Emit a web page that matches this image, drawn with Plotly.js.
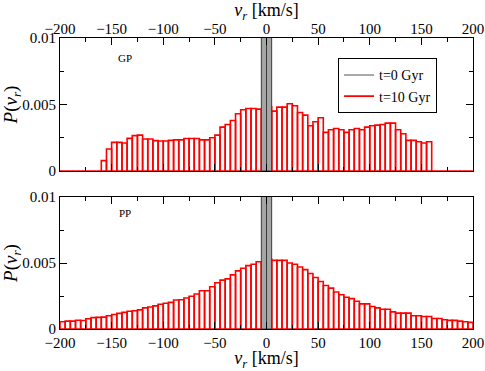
<!DOCTYPE html>
<html>
<head>
<meta charset="utf-8">
<script src="https://cdn.plot.ly/plotly-3.0.1.min.js"></script>
<style>
  html, body { margin: 0; padding: 0; background: #fff; }
  #plot { width: 485px; height: 371px; }
</style>
</head>
<body>
<div id="plot"></div>
<script>
// histogram bins: 5 km/s wide, left edges from -200 to 195
const binWidth = 5;
const firstEdge = -200;

// GP, t=10 Gyr
const gpValues = [
  0, 0, 0, 0, 0, 0, 0, 0,
  0.00078, 0.00165, 0.00215, 0.00215, 0.0021, 0.00245, 0.00266, 0.0027,
  0.0024, 0.0024, 0.00228, 0.00226, 0.00226, 0.0023, 0.00234, 0.00234,
  0.00244, 0.00244, 0.00244, 0.00234, 0.00234, 0.0025, 0.0027, 0.0033,
  0.0035, 0.0038, 0.0043, 0.0046, 0.0047, 0.0047, 0.00465, 0.0045,
  0.00484, 0.0045, 0.0048, 0.0048, 0.00506, 0.0049, 0.0044, 0.0042,
  0.0034, 0.0037, 0.004, 0.0029, 0.0031, 0.0032, 0.0031, 0.0029,
  0.0031, 0.0032, 0.0031, 0.0033, 0.0034, 0.00345, 0.0035, 0.0036,
  0.0036, 0.0031, 0.0028, 0.0023, 0.0023, 0.0022, 0.0021, 0.0022,
  0, 0, 0, 0, 0, 0, 0, 0
];

// PP, t=10 Gyr
const ppValues = [
  0.00055, 0.0006, 0.0006, 0.00066, 0.00064, 0.00078, 0.00086, 0.00088,
  0.0009, 0.001, 0.0011, 0.00118, 0.00126, 0.00134, 0.00138, 0.00145,
  0.0016, 0.00167, 0.00175, 0.00188, 0.00195, 0.00202, 0.0022, 0.00222,
  0.00235, 0.00248, 0.00265, 0.0029, 0.0029, 0.0032, 0.0035, 0.0037,
  0.0038, 0.0041, 0.0044, 0.0046, 0.0048, 0.0049, 0.0051, 0.0051,
  0.0053, 0.0052, 0.0052, 0.0052, 0.005, 0.0049, 0.0047, 0.0045,
  0.0042, 0.0039, 0.0036, 0.0033, 0.0031, 0.0028, 0.0026, 0.0024,
  0.0023, 0.0021, 0.0019, 0.0019, 0.0017, 0.0016, 0.0015, 0.0015,
  0.0013, 0.0012, 0.0012, 0.0012, 0.001, 0.001, 0.00095, 0.00095,
  0.0008, 0.0008, 0.0007, 0.00065, 0.00065, 0.0006, 0.00055, 0.0005
];

// t=0 Gyr: everything sits in the two central bins (off scale)
const t0Centers = [-2.5, 2.5];
const t0Values = [0.1, 0.1];

const binCenters = gpValues.map((v, i) => firstEdge + binWidth * i + binWidth / 2);

const red = '#ff0000';
const grey = '#8c8c8c';
const serif = "'Liberation Serif', 'Times New Roman', serif";

function histTrace(values, xa, ya) {
  return {
    type: 'bar', x: binCenters, y: values, width: binWidth,
    xaxis: xa, yaxis: ya, showlegend: false,
    marker: { color: 'rgba(255,255,255,0)', line: { color: red, width: 1.6 } },
    hoverinfo: 'x+y'
  };
}
function t0Trace(xa, ya) {
  return {
    type: 'bar', x: t0Centers, y: t0Values, width: binWidth,
    xaxis: xa, yaxis: ya, showlegend: false,
    marker: { color: '#a6a6a6', line: { color: '#3a3a3a', width: 1 } }
  };
}

let traces = [
  histTrace(gpValues, 'x', 'y'),
  t0Trace('x', 'y'),
  histTrace(ppValues, 'x2', 'y2'),
  t0Trace('x2', 'y2'),
  // legend entries drawn as line samples
  { type: 'scatter', mode: 'lines', x: [null], y: [null], name: 't=0 Gyr',
    line: { color: grey, width: 1.6 }, xaxis: 'x', yaxis: 'y' },
  { type: 'scatter', mode: 'lines', x: [null], y: [null], name: 't=10 Gyr',
    line: { color: red, width: 1.6 }, xaxis: 'x', yaxis: 'y' }
];

const xCommon = {
  range: [-200, 200], tickmode: 'linear', tick0: -200, dtick: 50,
  ticks: 'inside', ticklen: 7, tickcolor: '#000', tickwidth: 1,
  minor: { dtick: 25, tick0: -200, ticks: 'inside', ticklen: 4, tickcolor: '#000' },
  showline: true, linecolor: '#000', linewidth: 1, mirror: 'allticks',
  showgrid: false, zeroline: false,
  tickfont: { family: serif, size: 15, color: '#000' }
};
const yCommon = {
  range: [0, 0.01], tickvals: [0, 0.005, 0.01], ticktext: ['0', '0.005', '0.01'],
  ticks: 'inside', ticklen: 7, tickcolor: '#000', tickwidth: 1,
  minor: { tickvals: [0.0025, 0.0075], ticks: 'inside', ticklen: 4, tickcolor: '#000' },
  showline: true, linecolor: '#000', linewidth: 1, mirror: 'allticks',
  showgrid: false, zeroline: false,
  tickfont: { family: serif, size: 15, color: '#000' },
  title: { text: '<i>P</i>(<i>v<sub>r</sub></i>)', font: { family: serif, size: 19, color: '#000' }, standoff: 5 }
};
const xTitleFont = { family: serif, size: 18, color: '#000' };

let layout = {
  width: 485, height: 371,
  margin: { l: 60, r: 12, t: 38, b: 42 },
  paper_bgcolor: '#fff', plot_bgcolor: '#fff',
  barmode: 'overlay', bargap: 0,
  font: { family: serif, color: '#000' },
  xaxis: Object.assign({}, xCommon, {
    anchor: 'y', side: 'top', ticklabelstandoff: -3,
    title: { text: '<i>v<sub>r</sub></i> [km/s]', font: xTitleFont, standoff: 0 }
  }),
  yaxis: Object.assign({}, yCommon, { domain: [0.543, 1], anchor: 'x' }),
  xaxis2: Object.assign({}, xCommon, {
    anchor: 'y2', side: 'bottom',
    title: { text: '<i>v<sub>r</sub></i> [km/s]', font: xTitleFont, standoff: 2 }
  }),
  yaxis2: Object.assign({}, yCommon, { domain: [0, 0.4536], anchor: 'x2' }),
  showlegend: true,
  legend: {
    x: 0.913, y: 0.93, xanchor: 'right', yanchor: 'top',
    bgcolor: '#fff', bordercolor: '#000', borderwidth: 1,
    font: { family: serif, size: 14, color: '#000' },
    itemwidth: 30, tracegroupgap: 0
  },
  annotations: [
    { text: 'GP', xref: 'x', yref: 'y', x: -137, y: 0.0085, showarrow: false,
      xanchor: 'center', font: { family: serif, size: 11, color: '#000' } },
    { text: 'PP', xref: 'x2', yref: 'y2', x: -137, y: 0.0088, showarrow: false,
      xanchor: 'center', font: { family: serif, size: 11, color: '#000' } }
  ]
};

Plotly.newPlot(document.getElementById('plot'), traces, layout, { displayModeBar: false, staticPlot: true });
</script>
</body>
</html>
